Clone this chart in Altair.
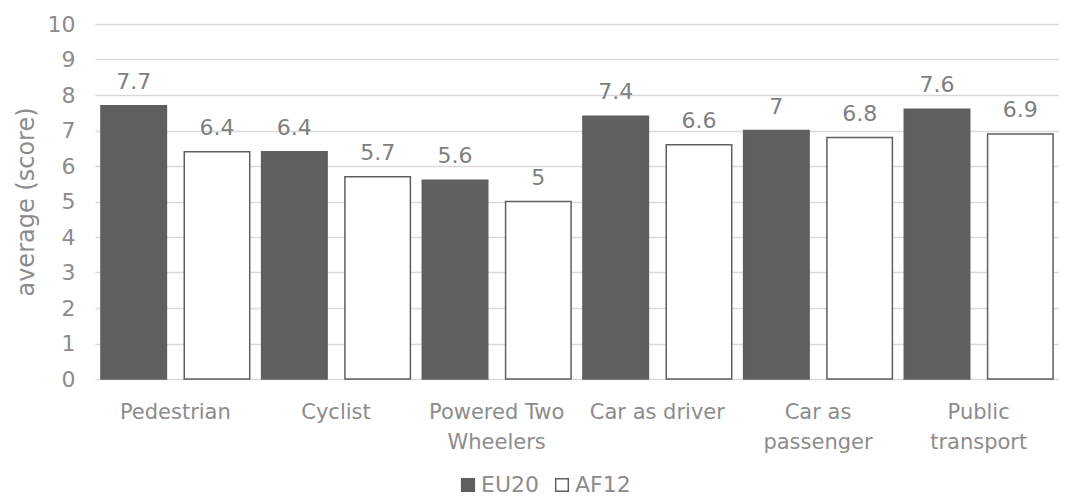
import altair as alt
import pandas as pd

categories = ["Pedestrian", "Cyclist", "Powered Two|Wheelers", "Car as driver",
              "Car as|passenger", "Public|transport"]
series = ["EU20", "AF12"]
eu20 = [7.7, 6.4, 5.6, 7.4, 7.0, 7.6]
af12 = [6.4, 5.7, 5.0, 6.6, 6.8, 6.9]
y_ticks = [0, 1, 2, 3, 4, 5, 6, 7, 8, 9, 10]

rows = []
for c, a, b in zip(categories, eu20, af12):
    rows.append({"mode": c, "group": "EU20", "score": a})
    rows.append({"mode": c, "group": "AF12", "score": b})
df = pd.DataFrame(rows)

FONT = "DejaVu Sans"
AXIS_GREY = "#8c8c8c"
DARK = "#5f5f5f"

x = alt.X("mode:N", sort=categories, title=None,
          scale=alt.Scale(paddingInner=0.074, paddingOuter=0.037),
          axis=alt.Axis(labelExpr="split(datum.label, '|')", labelAngle=0,
                        labelFont=FONT, labelFontSize=21, labelColor=AXIS_GREY,
                        labelLineHeight=30, labelPadding=22, ticks=False,
                        domain=False, grid=False))
xoff = alt.XOffset("group:N", sort=series,
                   scale=alt.Scale(paddingInner=0.214, paddingOuter=0))
y_axis = alt.Axis(values=y_ticks, tickCount=20, format="d", labelOverlap=False,
                  labelFont=FONT, labelFontSize=22,
                  labelColor=AXIS_GREY, labelPadding=20, ticks=False,
                  domain=False, gridColor="#d9d9d9", gridWidth=1.5,
                  titleFont=FONT, titleFontSize=24, titleFontWeight="normal",
                  titleColor=AXIS_GREY, titlePadding=9)
y = alt.Y("score:Q", title="average (score)",
          scale=alt.Scale(domain=[0, 10], nice=False), axis=y_axis)

bars = alt.Chart(df).mark_bar(strokeWidth=1.5).encode(
    x=x, xOffset=xoff, y=y,
    fill=alt.Fill("group:N", sort=series,
                  scale=alt.Scale(domain=series, range=[DARK, "#ffffff"]),
                  legend=alt.Legend(title=None, orient="none", direction="horizontal",
                                    legendX=362, legendY=450, symbolType="square",
                                    symbolSize=160, symbolStrokeWidth=1.5,
                                    labelFont=FONT, labelFontSize=22,
                                    labelColor=AXIS_GREY, columnPadding=12,
                                    labelOffset=2)),
    stroke=alt.Stroke("group:N", sort=series,
                      scale=alt.Scale(domain=series, range=[DARK, DARK]),
                      legend=None),
)

labels = alt.Chart(df).mark_text(font=FONT, fontSize=22, color="#7f7f7f",
                                 dy=-17, baseline="alphabetic").encode(
    x=x, xOffset=xoff, y=y, text=alt.Text("score:N"))

chart = alt.layer(bars, labels).properties(
    width=964, height=355,
    autosize=alt.AutoSizeParams(type="none"),
    padding={"left": 87, "top": 16, "right": 0, "bottom": 117},
).configure_view(stroke=None)

chart.save("out.html", embed_options={"renderer": "svg", "actions": False})
